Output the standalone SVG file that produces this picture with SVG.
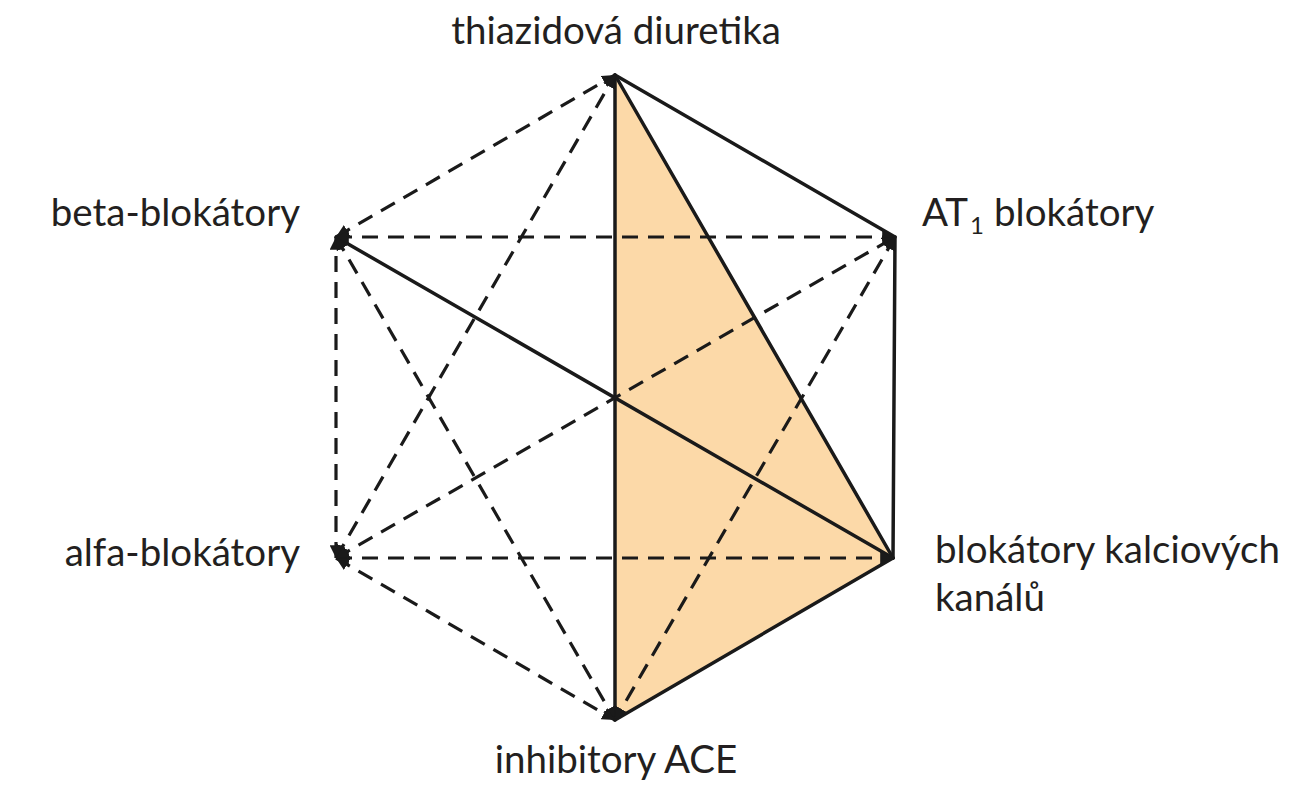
<svg xmlns="http://www.w3.org/2000/svg" width="1310" height="800" viewBox="0 0 1310 800">
<style>
.s{stroke:#1a1a1a;stroke-width:3.5;fill:none;stroke-linecap:round}
.d{stroke:#1a1a1a;stroke-width:3.2;fill:none;stroke-dasharray:16 10;marker-start:url(#a);marker-end:url(#a)}
.t{font-family:Lato,"Open Sans",sans-serif;font-size:38.5px;fill:#231f20}
</style>
<defs>
<marker id="a" viewBox="0 0 10 10" refX="10" refY="5" markerWidth="4" markerHeight="4" orient="auto-start-reverse" markerUnits="strokeWidth">
<path d="M0,0 L10,5 L0,10 Z" fill="#1a1a1a"/>
</marker>
</defs>
<rect width="1310" height="800" fill="#fff"/>
<polygon points="615,75 893,558 615,720" fill="#fcd9a8"/>
<g id="connectors">
<line class="s" x1="615" y1="75" x2="895" y2="237"/>
<line class="s" x1="895" y1="237" x2="893" y2="558"/>
<line class="s" x1="615" y1="75" x2="615" y2="720"/>
<line class="s" x1="893" y1="558" x2="615" y2="720"/>
<line class="s" x1="615" y1="75" x2="893" y2="558"/>
<line class="s" x1="336" y1="237" x2="893" y2="558"/>
<line class="d" x1="336" y1="237" x2="615" y2="75"/>
<line class="d" x1="336" y1="558" x2="615" y2="75"/>
<line class="d" x1="336" y1="237" x2="895" y2="237"/>
<line class="d" x1="336" y1="558" x2="336" y2="237"/>
<line class="d" x1="336" y1="237" x2="615" y2="720"/>
<line class="d" x1="336" y1="558" x2="893" y2="558"/>
<line class="d" x1="336" y1="558" x2="615" y2="720"/>
<line class="d" x1="336" y1="558" x2="895" y2="237"/>
<line class="d" x1="895" y1="237" x2="615" y2="720"/>
</g>
<g id="n-thiazid"><text class="t" x="616" y="44" text-anchor="middle">thiazidová diuretika</text></g>
<g id="n-beta"><text class="t" x="300" y="226" text-anchor="end">beta-blokátory</text></g>
<g id="n-at1"><text class="t" x="922" y="226">AT<tspan font-size="24" dx="2" dy="8">1</tspan><tspan dx="10" dy="-8">blokátory</tspan></text></g>
<g id="n-alfa"><text class="t" x="300" y="566" text-anchor="end">alfa-blokátory</text></g>
<g id="n-kalc"><text class="t" x="935" y="563">blokátory kalciových</text><text class="t" x="935" y="611">kanálů</text></g>
<g id="n-ace"><text class="t" x="616" y="773" text-anchor="middle">inhibitory ACE</text></g>
</svg>
